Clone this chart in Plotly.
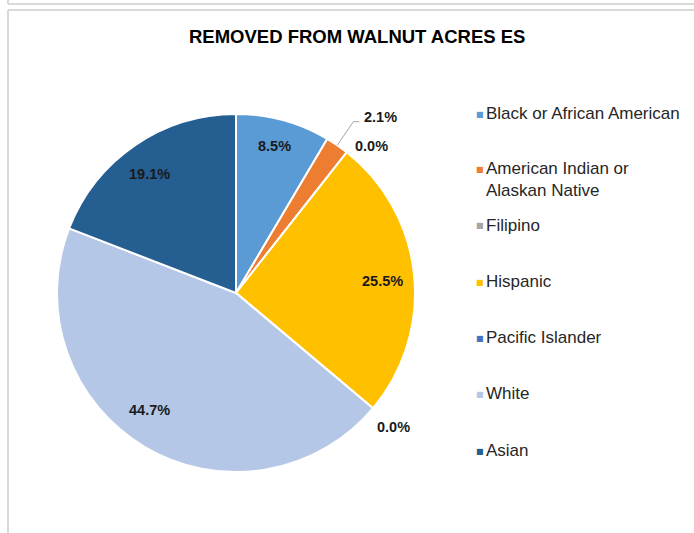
import math
import plotly.graph_objects as go

W, H = 694, 533

title = "REMOVED FROM WALNUT ACRES ES"
labels = ["Black or African American", "American Indian or Alaskan Native", "Filipino",
          "Hispanic", "Pacific Islander", "White", "Asian"]
legend_text = ["Black or African American", "American Indian or<br>Alaskan Native", "Filipino",
               "Hispanic", "Pacific Islander", "White", "Asian"]
values = [8.5, 2.1, 0.0, 25.5, 0.0, 44.7, 19.1]
colors = ["#5B9BD5", "#ED7D31", "#A5A5A5", "#FFC000", "#4472C4", "#B4C7E7", "#255E91"]

# pie geometry in pixels
cx, cy, r = 236, 293, 179
# label placement: radius factor at slice mid-angle plus pixel nudge
lab_rf = [0.86, 1.0, 1.0, 0.82, 1.0, 0.82, 0.83]
lab_off = [(-2, 1), (43, -28), (25, -6), (0, 3), (21, 19), (-12, -9), (-3, 4)]

def px(x, y):
    return x / W, 1 - y / H

fig = go.Figure()
fig.add_trace(go.Pie(
    labels=labels, values=values, sort=False, direction="clockwise", rotation=0,
    marker=dict(colors=colors, line=dict(color="white", width=2)),
    textinfo="none", hoverinfo="label+percent", showlegend=False,
    domain=dict(x=[(cx - r) / W, (cx + r) / W], y=[1 - (cy + r) / H, 1 - (cy - r) / H]),
))

font_lab = dict(family="Liberation Sans", size=14.5, color="#1a1a1a")
total = sum(values)
cum = 0
annotations = []
shapes = []
for i, v in enumerate(values):
    mid = (cum + v / 2) / total * 2 * math.pi
    cum += v
    sx, sy = math.sin(mid), -math.cos(mid)
    lx = cx + lab_rf[i] * r * sx + lab_off[i][0]
    ly = cy + lab_rf[i] * r * sy + lab_off[i][1]
    x, y = px(lx, ly)
    annotations.append(dict(x=x, y=y, xref="paper", yref="paper", text="<b>%.1f%%</b>" % v,
                            showarrow=False, font=font_lab, xanchor="center", yanchor="middle"))
    if i == 1:
        p0 = (cx + r * sx, cy + r * sy)
        p1 = (cx + 1.16 * r * sx, cy + 1.16 * r * sy)
        p2 = (p1[0] + 6, p1[1])
        a, b, c = px(*p0), px(*p1), px(*p2)
        shapes.append(dict(type="path", xref="paper", yref="paper",
                           path="M%f,%f L%f,%f L%f,%f" % (a[0], a[1], b[0], b[1], c[0], c[1]),
                           line=dict(color="#A6A6A6", width=1)))

# legend drawn as annotations
leg_y = [114, 169, 226, 282, 338, 394, 451]
for i, t in enumerate(legend_text):
    x, y = px(474, leg_y[i])
    annotations.append(dict(x=x, y=y, xref="paper", yref="paper", text="■", showarrow=False,
                            font=dict(family="DejaVu Sans", size=8, color=colors[i]),
                            xanchor="left", yanchor="middle"))
    x, y = px(484, leg_y[i] - 12)
    annotations.append(dict(x=x, y=y, xref="paper", yref="paper", text=t, showarrow=False,
                            font=dict(family="Liberation Sans", size=17, color="#262626"),
                            xanchor="left", yanchor="top", align="left"))

# title
x, y = px(357, 36)
annotations.append(dict(x=x, y=y, xref="paper", yref="paper", text="<b>%s</b>" % title,
                        showarrow=False, font=dict(family="Liberation Sans", size=18.5, color="#000000"),
                        xanchor="center", yanchor="middle"))

# frame lines
frame = "#D9D9D9"
shapes.append(dict(type="line", xref="paper", yref="paper", x0=8 / W, x1=1, y0=1 - 4 / H, y1=1 - 4 / H,
                   line=dict(color=frame, width=2)))
shapes.append(dict(type="line", xref="paper", yref="paper", x0=8 / W, x1=8 / W, y0=1, y1=1 - 4 / H,
                   line=dict(color=frame, width=2)))
shapes.append(dict(type="line", xref="paper", yref="paper", x0=8 / W, x1=1, y0=1 - 10 / H, y1=1 - 10 / H,
                   line=dict(color=frame, width=2)))
shapes.append(dict(type="line", xref="paper", yref="paper", x0=8 / W, x1=8 / W, y0=0, y1=1 - 10 / H,
                   line=dict(color=frame, width=2)))

fig.update_layout(width=W, height=H, margin=dict(l=0, r=0, t=0, b=0),
                  paper_bgcolor="white", plot_bgcolor="white",
                  annotations=annotations, shapes=shapes)
fig.write_html("out.html", config={"displayModeBar": False},
               post_script="document.body.style.margin='0';")
